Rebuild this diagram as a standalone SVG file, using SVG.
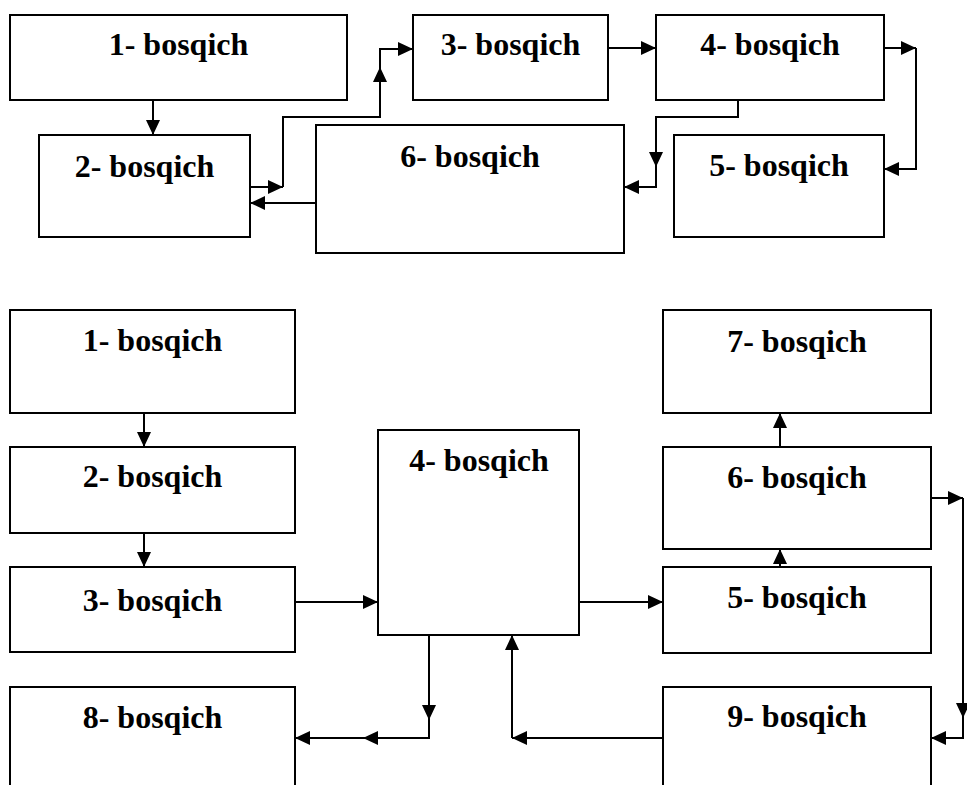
<svg xmlns="http://www.w3.org/2000/svg" width="967" height="785" viewBox="0 0 967 785">
  <style>
    .box { fill: #ffffff; stroke: #000000; stroke-width: 2; }
    .lbl { font-family: "Liberation Serif", "Times New Roman", serif; font-weight: bold; font-size: 32px; fill: #000000; text-anchor: middle; }
    .wire { fill: none; stroke: #000000; stroke-width: 2; marker-end: url(#arrow); }
  </style>
  <defs>
    <marker id="arrow" viewBox="0 0 15 14" refX="15" refY="7" markerWidth="15" markerHeight="14" markerUnits="userSpaceOnUse" orient="auto">
      <path d="M0,0 L15,7 L0,14 Z" fill="#000000"/>
    </marker>
  </defs>
  <rect width="967" height="785" fill="#ffffff"/>

  <!-- Upper scheme -->
  <g id="top-step1"><rect class="box" x="10" y="15" width="337" height="85"/><text class="lbl" x="178.5" y="55">1- bosqich</text></g>
  <g id="top-step2"><rect class="box" x="39" y="135" width="211" height="102"/><text class="lbl" x="144.5" y="177">2- bosqich</text></g>
  <g id="top-step3"><rect class="box" x="413" y="15" width="195" height="85"/><text class="lbl" x="510.5" y="55">3- bosqich</text></g>
  <g id="top-step4"><rect class="box" x="656" y="15" width="228" height="85"/><text class="lbl" x="770" y="55">4- bosqich</text></g>
  <g id="top-step5"><rect class="box" x="674" y="135" width="210" height="102"/><text class="lbl" x="779" y="176">5- bosqich</text></g>
  <g id="top-step6"><rect class="box" x="316" y="125" width="308" height="128"/><text class="lbl" x="470" y="167">6- bosqich</text></g>

  <!-- Lower scheme -->
  <g id="bot-step1"><rect class="box" x="10" y="310" width="285" height="103"/><text class="lbl" x="152.5" y="351">1- bosqich</text></g>
  <g id="bot-step2"><rect class="box" x="10" y="447" width="285" height="86"/><text class="lbl" x="152.5" y="487">2- bosqich</text></g>
  <g id="bot-step3"><rect class="box" x="10" y="567" width="285" height="85"/><text class="lbl" x="152.5" y="611">3- bosqich</text></g>
  <g id="bot-step4"><rect class="box" x="378" y="430" width="201" height="205"/><text class="lbl" x="479" y="471">4- bosqich</text></g>
  <g id="bot-step5"><rect class="box" x="663" y="567" width="268" height="86"/><text class="lbl" x="797" y="608">5- bosqich</text></g>
  <g id="bot-step6"><rect class="box" x="663" y="447" width="268" height="102"/><text class="lbl" x="797" y="488">6- bosqich</text></g>
  <g id="bot-step7"><rect class="box" x="663" y="310" width="268" height="103"/><text class="lbl" x="797" y="352">7- bosqich</text></g>
  <g id="bot-step8"><rect class="box" x="10" y="687" width="285" height="130"/><text class="lbl" x="152.5" y="728">8- bosqich</text></g>
  <g id="bot-step9"><rect class="box" x="663" y="687" width="268" height="130"/><text class="lbl" x="797" y="727">9- bosqich</text></g>

  <g id="connectors">
    <!-- upper -->
    <path class="wire" d="M153,100 V135"/>
    <path class="wire" d="M250,187 H283"/>
    <path class="wire" d="M283,187 V117 H380 V67"/>
    <path class="wire" d="M380,67 V49 H413"/>
    <path class="wire" d="M608,48 H656"/>
    <path class="wire" d="M884,48 H916"/>
    <path class="wire" d="M916,48 V169 H884"/>
    <path class="wire" d="M738,100 V117 H656 V167"/>
    <path class="wire" d="M656,167 V187 H624"/>
    <path class="wire" d="M316,203 H250"/>
    <!-- lower -->
    <path class="wire" d="M144,413 V447"/>
    <path class="wire" d="M144,533 V567"/>
    <path class="wire" d="M295,602 H378"/>
    <path class="wire" d="M579,602 H663"/>
    <path class="wire" d="M780,447 V413"/>
    <path class="wire" d="M780,567 V549"/>
    <path class="wire" d="M931,498 H963"/>
    <path class="wire" d="M963,498 V718"/>
    <path class="wire" d="M963,718 V738 H931"/>
    <path class="wire" d="M429,635 V720"/>
    <path class="wire" d="M429,720 V738 H363"/>
    <path class="wire" d="M363,738 H295"/>
    <path class="wire" d="M663,738 H512"/>
    <path class="wire" d="M512,738 V635"/>
  </g>
</svg>
